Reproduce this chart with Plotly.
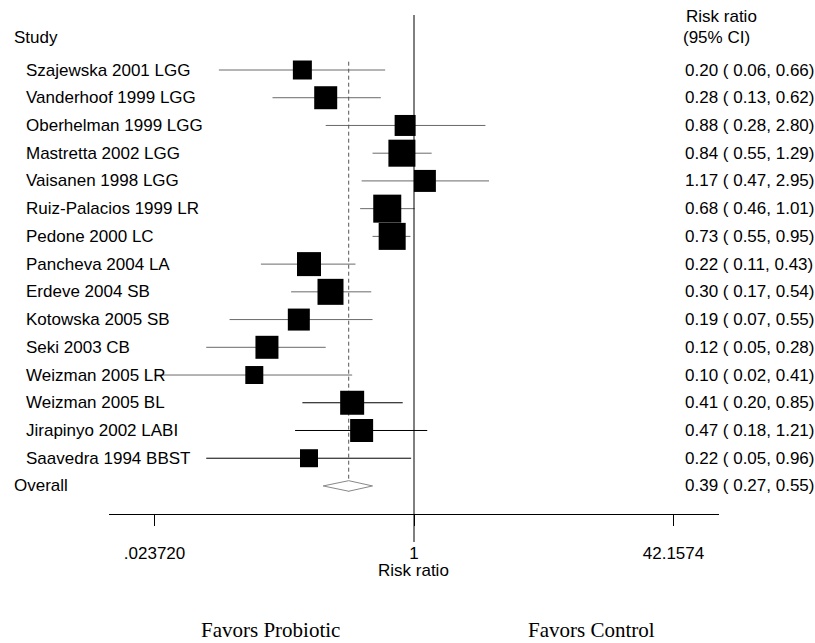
import numpy as np
import plotly.graph_objects as go

# ---------------- data ----------------
studies = ["Szajewska 2001 LGG", "Vanderhoof 1999 LGG", "Oberhelman 1999 LGG",
           "Mastretta 2002 LGG", "Vaisanen 1998 LGG", "Ruiz-Palacios 1999 LR",
           "Pedone 2000 LC", "Pancheva 2004 LA", "Erdeve 2004 SB",
           "Kotowska 2005 SB", "Seki 2003 CB", "Weizman 2005 LR",
           "Weizman 2005 BL", "Jirapinyo 2002 LABI", "Saavedra 1994 BBST"]
rr = [0.20, 0.28, 0.88, 0.84, 1.17, 0.68, 0.73, 0.22, 0.30, 0.19, 0.12, 0.10, 0.41, 0.47, 0.22]
ci_low = [0.06, 0.13, 0.28, 0.55, 0.47, 0.46, 0.55, 0.11, 0.17, 0.07, 0.05, 0.02, 0.20, 0.18, 0.05]
ci_high = [0.66, 0.62, 2.80, 1.29, 2.95, 1.01, 0.95, 0.43, 0.54, 0.55, 0.28, 0.41, 0.85, 1.21, 0.96]
weights = [4.47, 6.55, 5.46, 9.03, 5.99, 9.71, 9.03, 7.13, 8.37, 5.99, 6.55, 4.01, 7.13, 6.55, 4.01]
overall_label = "Overall"
overall = [0.39, 0.27, 0.55]  # estimate, low, high
tick_vals = [0.023720, 1, 42.1574]
tick_text = [".023720", "1", "42.1574"]

# ---------------- styles ----------------
W, H = 815, 643
FONT = "Arial, Liberation Sans, sans-serif"
SERIF = "Times New Roman, Liberation Serif, serif"
FS = 17
grey = "#6a6a6a"
line_colors = [grey] * 12 + ["#000000"] * 3

n = len(studies)
rows = list(range(1, n + 1))
overall_row = n + 1

# pixel helpers for layout
row0_px, row_step = 42.27, 27.73
axis_px = 513.5
ymax = (axis_px - row0_px) / row_step
ymin = -row0_px / row_step
x_left_px, x_right_px, one_px, px_per_dec = 109, 719, 414, 159.7
xr = [(x_left_px - one_px) / px_per_dec, (x_right_px - one_px) / px_per_dec]

axis_min = tick_vals[0]

fig = go.Figure()

# CI lines grouped by color
for col in sorted(set(line_colors)):
    xs, ys = [], []
    for i in range(n):
        if line_colors[i] == col:
            xs += [max(ci_low[i], axis_min), ci_high[i], None]
            ys += [rows[i], rows[i], None]
    fig.add_trace(go.Scatter(x=xs, y=ys, mode="lines",
                             line=dict(color=col, width=1),
                             hoverinfo="skip", showlegend=False))

# dashed overall line
fig.add_trace(go.Scatter(x=[overall[0], overall[0]], y=[0.7, overall_row + 0.2],
                         mode="lines", line=dict(color="#555555", width=1, dash="4px,3px"),
                         hoverinfo="skip", showlegend=False))

# weight squares
sizes = [8.99 * np.sqrt(w) for w in weights]
fig.add_trace(go.Scatter(x=rr, y=rows, mode="markers",
                         marker=dict(symbol="square", size=sizes, color="black",
                                     opacity=1, line=dict(width=0)),
                         opacity=1, showlegend=False))

# overall diamond
dh = 0.19
fig.add_trace(go.Scatter(x=[overall[1], overall[0], overall[2], overall[0], overall[1]],
                         y=[overall_row, overall_row - dh, overall_row, overall_row + dh, overall_row],
                         mode="lines", fill="toself", fillcolor="white",
                         line=dict(color="#888888", width=1),
                         hoverinfo="skip", showlegend=False))

ann = []
def txt(x, y, text, xref="paper", yref="y", anchor="left", family=FONT, size=FS):
    ann.append(dict(x=x, y=y, xref=xref, yref=yref, text=text,
                    xanchor=anchor, yanchor="middle", showarrow=False,
                    font=dict(family=family, size=size, color="black")))

txt(12 / W, -0.18, "Study")
txt(684 / W, 1 - 16 / H, "Risk ratio", yref="paper")
txt(681 / W, 1 - 38 / H, "(95% CI)", yref="paper")
for i in range(n):
    txt(24 / W, rows[i], studies[i])
    txt(683 / W, rows[i], f"{rr[i]:.2f} ( {ci_low[i]:.2f}, {ci_high[i]:.2f})")
txt(12 / W, overall_row, overall_label)
txt(683 / W, overall_row, f"{overall[0]:.2f} ( {overall[1]:.2f}, {overall[2]:.2f})")
txt(one_px / W, 1 - 570 / H, "Risk ratio", yref="paper", anchor="center")
txt(270 / W, 1 - 630 / H, "Favors Probiotic", yref="paper", anchor="center", family=SERIF, size=21)
txt(591 / W, 1 - 630 / H, "Favors Control", yref="paper", anchor="center", family=SERIF, size=21)

shapes = [dict(type="line", xref="x", yref="paper", x0=1, x1=1,
               y0=1 - 542 / H, y1=1 - 15 / H, line=dict(color="black", width=1))]

fig.update_layout(
    width=W, height=H, margin=dict(l=0, r=0, t=0, b=0),
    paper_bgcolor="white", plot_bgcolor="white",
    annotations=ann, shapes=shapes,
    xaxis=dict(type="log", range=xr, domain=[x_left_px / W, x_right_px / W],
               showgrid=False, zeroline=False, showline=True, linecolor="black", linewidth=1,
               ticks="outside", ticklen=11, tickcolor="black", tickwidth=1,
               tickvals=tick_vals, ticktext=tick_text, ticklabelstandoff=13,
               tickfont=dict(family=FONT, size=FS, color="black")),
    yaxis=dict(range=[ymax, ymin], domain=[(H - axis_px) / H, 1],
               showgrid=False, zeroline=False, showline=False, showticklabels=False,
               ticks=""),
)

fig.write_html("out.html")
